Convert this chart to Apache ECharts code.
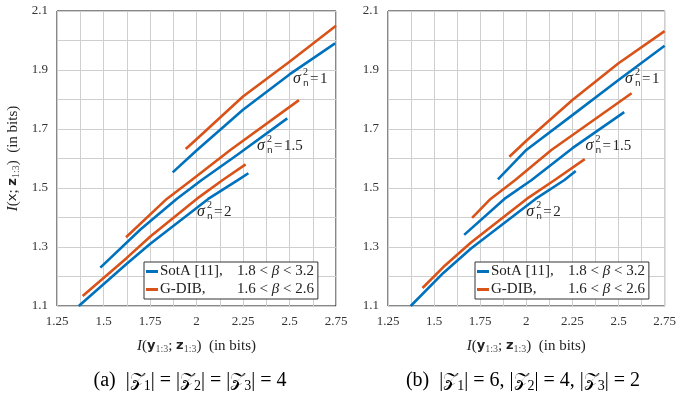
<!DOCTYPE html>
<html>
<head>
<meta charset="utf-8">
<script src="https://cdn.jsdelivr.net/npm/echarts@6/dist/echarts.min.js"></script>
<style>
  html, body { margin: 0; padding: 0; background: #fff; }
  #chart { width: 679px; height: 396px; }
</style>
</head>
<body>
<div id="chart"></div>
<script>
// ===== Data =====
const xTicks = [1.25, 1.5, 1.75, 2, 2.25, 2.5, 2.75];
const yTicks = [1.1, 1.3, 1.5, 1.7, 1.9, 2.1];

// panel (a): |Z1|=|Z2|=|Z3|=4
const sotaA1 = [[1.872, 1.553], [2.0, 1.627], [2.25, 1.765], [2.5, 1.885], [2.745, 1.99]];
const gdibA1 = [[1.942, 1.632], [2.0, 1.665], [2.25, 1.81], [2.5, 1.928], [2.75, 2.05]];
const sotaA15 = [[1.483, 1.23], [1.7, 1.36], [1.893, 1.463], [2.028, 1.527], [2.218, 1.612], [2.488, 1.736]];
const gdibA15 = [[1.621, 1.333], [1.84, 1.463], [1.974, 1.527], [2.182, 1.629], [2.551, 1.798]];
const sotaA2 = [[1.367, 1.1], [1.625, 1.243], [1.75, 1.31], [2.063, 1.463], [2.222, 1.527], [2.279, 1.55]];
const gdibA2 = [[1.388, 1.134], [1.625, 1.263], [1.75, 1.335], [2.001, 1.463], [2.141, 1.527], [2.264, 1.58]];

// panel (b): |Z1|=6, |Z2|=4, |Z3|=2
const sotaB1 = [[1.846, 1.529], [2.0, 1.629], [2.25, 1.747], [2.5, 1.866], [2.75, 1.982]];
const gdibB1 = [[1.908, 1.606], [2.0, 1.66], [2.25, 1.798], [2.5, 1.923], [2.75, 2.032]];
const sotaB15 = [[1.663, 1.341], [1.881, 1.463], [2.029, 1.527], [2.25, 1.635], [2.531, 1.757]];
const gdibB15 = [[1.706, 1.399], [1.806, 1.463], [1.94, 1.527], [2.136, 1.629], [2.571, 1.821]];
const sotaB2 = [[1.373, 1.1], [1.55, 1.212], [1.7, 1.295], [2.05, 1.463], [2.207, 1.527], [2.268, 1.558]];
const gdibB2 = [[1.437, 1.161], [1.55, 1.232], [1.7, 1.315], [2.002, 1.463], [2.154, 1.527], [2.317, 1.598]];

// sigma_n^2 labels: [panel, x, y, value]
const noteLabels = [
  [0, 2.519, 1.869, '1'], [0, 2.325, 1.642, '1.5'], [0, 2.003, 1.419, '2'],
  [1, 2.535, 1.869, '1'], [1, 2.321, 1.642, '1.5'], [1, 2.0, 1.419, '2']
];

const BLUE = '#0072BD';
const ORANGE = '#D95319';
const SERIF = '"Liberation Serif", "DejaVu Serif", serif';
const SANS = '"DejaVu Sans", "Liberation Sans", sans-serif';

const chart = echarts.init(document.getElementById('chart'), null, { renderer: 'canvas' });

// ===== helpers =====
const near = (v, arr) => arr.some(t => Math.abs(t - v) < 1e-6);

const nameRich = {
  i: { fontFamily: SERIF, fontStyle: 'italic', fontSize: 15, color: '#222' },
  t: { fontFamily: SERIF, fontSize: 15, color: '#222' },
  x: { fontFamily: SANS, fontSize: 13, color: '#222' },
  b: { fontFamily: SANS, fontWeight: 'bold', fontSize: 13, color: '#222' },
  s: { fontFamily: SERIF, fontSize: 10, color: '#555', verticalAlign: 'bottom', padding: [6, 0, 0, 0] }
};

function xAxisFor(idx) {
  return {
    gridIndex: idx, type: 'value', min: 1.25, max: 2.75, interval: 0.125,
    axisLine: { show: false }, axisTick: { show: false },
    splitLine: { show: true, lineStyle: { color: '#cfcfcf', width: 1 } },
    axisLabel: {
      margin: 9, color: '#333', fontFamily: SERIF, fontSize: 13, showMinLabel: true, showMaxLabel: true,
      formatter: v => near(v, xTicks) ? String(+v.toFixed(2)) : ''
    },
    name: '{i|I}{t|(}{b|y}{s|1:3}{t|; }{b|z}{s|1:3}{t|)  (in bits)}',
    nameLocation: 'middle', nameGap: 32,
    nameTextStyle: { rich: nameRich }
  };
}

function yAxisFor(idx, withName) {
  const ax = {
    gridIndex: idx, type: 'value', min: 1.1, max: 2.1, interval: 0.1,
    axisLine: { show: false }, axisTick: { show: false },
    splitLine: { show: true, lineStyle: { color: '#cfcfcf', width: 1 } },
    axisLabel: {
      margin: 9, color: '#333', fontFamily: SERIF, fontSize: 13,
      formatter: v => near(v, yTicks) ? v.toFixed(1) : ''
    }
  };
  if (withName) {
    ax.name = '{i|I}{t|(}{x|x}{t|; }{b|z}{s|1:3}{t|)  (in bits)}';
    ax.nameLocation = 'middle';
    ax.nameGap = 36;
    ax.nameTextStyle = { rich: nameRich };
  }
  return ax;
}

function lineSeries(name, color, idx, data) {
  return {
    type: 'line', name, xAxisIndex: idx, yAxisIndex: idx, data,
    showSymbol: false, smooth: false, z: 3,
    lineStyle: { color, width: 2.6, join: 'round' }, itemStyle: { color },
    emphasis: { disabled: true }
  };
}

const legendText = {
  'SotA': '{n|SotA [11],}{m|1.8 < }{g|β}{m| < 3.2}',
  'G-DIB': '{n|G-DIB,}{m|1.6 < }{g|β}{m| < 2.6}'
};

function legendFor(left) {
  return {
    data: ['SotA', 'G-DIB'], orient: 'vertical', left, top: 262,
    itemWidth: 12, itemHeight: 3, itemGap: 3, icon: 'rect',
    padding: [2, 4, 2, 2], borderColor: '#333', borderWidth: 1, backgroundColor: '#fff',
    borderRadius: 0, selectedMode: false,
    formatter: n => legendText[n],
    textStyle: {
      padding: [0, 0, 0, -3],
      rich: {
        n: { fontFamily: SERIF, fontSize: 15, color: '#222', width: 77 },
        m: { fontFamily: SERIF, fontSize: 15, color: '#222' },
        g: { fontFamily: SERIF, fontStyle: 'italic', fontSize: 15, color: '#222' }
      }
    }
  };
}

const option = {
  animation: false,
  backgroundColor: '#fff',
  grid: [
    { left: 57, top: 11, width: 279, height: 295, show: true, borderColor: '#111', borderWidth: 1, backgroundColor: 'transparent' },
    { left: 388, top: 11, width: 280, height: 295, show: true, borderColor: '#111', borderWidth: 1, backgroundColor: 'transparent' }
  ],
  xAxis: [xAxisFor(0), xAxisFor(1)],
  yAxis: [yAxisFor(0, true), yAxisFor(1, false)],
  legend: [legendFor(144), legendFor(475)],
  series: [
    lineSeries('SotA', BLUE, 0, sotaA1),
    lineSeries('G-DIB', ORANGE, 0, gdibA1),
    lineSeries('SotA', BLUE, 0, sotaA15),
    lineSeries('G-DIB', ORANGE, 0, gdibA15),
    lineSeries('SotA', BLUE, 0, sotaA2),
    lineSeries('G-DIB', ORANGE, 0, gdibA2),
    lineSeries('SotA', BLUE, 1, sotaB1),
    lineSeries('G-DIB', ORANGE, 1, gdibB1),
    lineSeries('SotA', BLUE, 1, sotaB15),
    lineSeries('G-DIB', ORANGE, 1, gdibB15),
    lineSeries('SotA', BLUE, 1, sotaB2),
    lineSeries('G-DIB', ORANGE, 1, gdibB2)
  ]
};

chart.setOption(option);

// ===== annotations + captions =====
const graphics = [];

noteLabels.forEach(([g, x, y, val]) => {
  const [px, py] = chart.convertToPixel({ gridIndex: g }, [x, y]);
  graphics.push({
    type: 'group', x: px, y: py, z: 10,
    children: [
      { type: 'text', x: 0, y: 0, style: { text: 'σ', font: 'italic 16px ' + SERIF, fill: '#222', verticalAlign: 'middle' } },
      { type: 'text', x: 10, y: -7, style: { text: '2', font: '10px ' + SERIF, fill: '#222', verticalAlign: 'middle' } },
      { type: 'text', x: 10, y: 5, style: { text: 'n', font: '9px ' + SANS, fill: '#222', verticalAlign: 'middle' } },
      { type: 'text', x: 17, y: 0, style: { text: '=', font: '15px ' + SERIF, fill: '#222', verticalAlign: 'middle' } },
      { type: 'text', x: 27, y: 0, style: { text: val, font: '15px ' + SERIF, fill: '#222', verticalAlign: 'middle' } }
    ]
  });
});

const capRich = {
  t: { fontFamily: SERIF, fontSize: 20, color: '#111', lineHeight: 24 },
  z: { fontFamily: '"DejaVu Serif", "DejaVu Sans", serif', fontSize: 19, color: '#111', lineHeight: 24 },
  s: { fontFamily: SERIF, fontSize: 14, color: '#111', verticalAlign: 'bottom', lineHeight: 16, padding: [6, 0, 0, 0] }
};
const Z = '𝒵';
graphics.push({
  type: 'text', x: 190, y: 381, z: 10,
  style: {
    text: `{t|(a)  |}{z|${Z}}{s|1}{t|| = |}{z|${Z}}{s|2}{t|| = |}{z|${Z}}{s|3}{t|| = 4}`,
    rich: capRich, align: 'center', verticalAlign: 'middle'
  }
});
graphics.push({
  type: 'text', x: 523, y: 381, z: 10,
  style: {
    text: `{t|(b)  |}{z|${Z}}{s|1}{t|| = 6, |}{z|${Z}}{s|2}{t|| = 4, |}{z|${Z}}{s|3}{t|| = 2}`,
    rich: capRich, align: 'center', verticalAlign: 'middle'
  }
});

chart.setOption({ graphic: graphics });
</script>
</body>
</html>
